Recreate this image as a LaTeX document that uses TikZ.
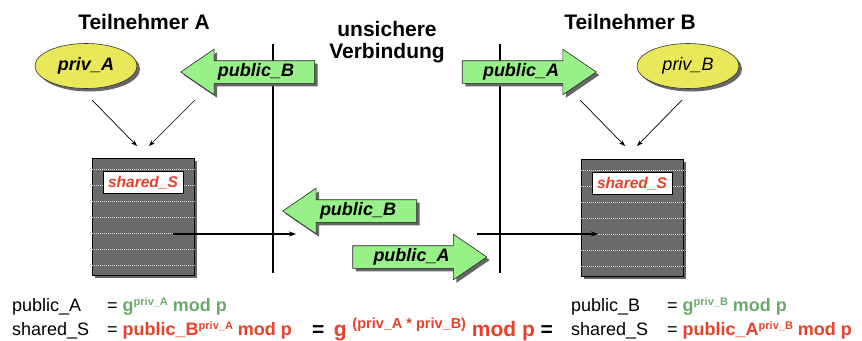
\documentclass[tikz,border=0pt]{standalone}
\usepackage{fontspec}
\setmainfont{Liberation Sans}
\usetikzlibrary{shapes.geometric,shapes.arrows,shadows,arrows.meta,calc}

\definecolor{greentxt}{HTML}{6AAA6A}
\definecolor{redtxt}{HTML}{E8402A}
\definecolor{msgfill}{HTML}{98F088}
\definecolor{keyfill}{HTML}{E8E85A}
\definecolor{storefill}{HTML}{6A6A6A}

% raised small exponent
\newcommand{\expo}[2][6pt]{\raisebox{#1}{\fontsize{11}{11}\selectfont #2}}
\newcommand{\bigexpo}[1]{\raisebox{8pt}{\fontsize{14.5}{14.5}\selectfont #1}}

\begin{document}
\begin{tikzpicture}[x=1pt,y=-1pt,
  shade/.style={drop shadow={shadow xshift=3pt,shadow yshift=-3pt,fill=black!60,opacity=1}},
  title/.style={font=\fontsize{21}{22}\selectfont\bfseries, align=center},
  keynode/.style={ellipse, draw=black!80, line width=0.6pt, fill=keyfill,
    minimum width=102pt, minimum height=45pt, inner sep=0pt, shade,
    font=\fontsize{18}{18}\selectfont\itshape},
  msg/.style={single arrow, draw=black!85, line width=0.6pt, fill=msgfill, shade,
    minimum height=134pt, single arrow head extend=11.5pt,
    single arrow tip angle=68.6, single arrow head indent=0pt,
    text height=13pt, text depth=4pt, inner ysep=2.5pt, inner xsep=0pt,
    font=\fontsize{18}{18}\selectfont\bfseries\itshape},
  msgleft/.style={msg, shape border rotate=180},
  store/.style={rectangle, draw=black, line width=0.6pt, fill=storefill,
    minimum width=102pt, minimum height=117pt, inner sep=0pt, shade},
  storelabel/.style={rectangle, draw=black, line width=0.5pt, fill=white,
    minimum width=80pt, minimum height=22pt, inner sep=0pt,
    text=redtxt, font=\fontsize{15.5}{15.5}\selectfont\bfseries\itshape},
  sepline/.style={white!85!black, line width=0.5pt, dash pattern=on 0.6pt off 1.4pt},
  channel/.style={black, line width=1.3pt},
  feed/.style={black, line width=0.7pt, -{Stealth[length=6pt,width=4.5pt]}},
  pass/.style={black, line width=1.3pt, -{Stealth[length=7pt,width=5pt]}},
  eqtext/.style={anchor=base west, inner sep=0pt, font=\fontsize{18}{18}\selectfont}
]
\useasboundingbox (0,0) rectangle (862,340);

% headings
\node[title] (headA) at (144,22) {Teilnehmer A};
\node[title] (headB) at (630,22) {Teilnehmer B};
\node[title] (headC) at (387,42) {unsichere\\Verbindung};

% the insecure channel boundaries
\coordinate (chAtop) at (273,44);
\coordinate (chAbot) at (273,273);
\coordinate (chBtop) at (500,44);
\coordinate (chBbot) at (500,273);
\draw[channel] (chAtop) -- (chAbot);
\draw[channel] (chBtop) -- (chBbot);

% private keys
\node[keynode, font=\fontsize{18}{18}\selectfont\bfseries\itshape] (privA) at (86,66) {priv\_A};
\node[keynode] (privB) at (688,66) {priv\_B};

% shared secret stores
\node[store] (boxA) at (143,216.5) {};
\node[store] (boxB) at (632,217.5) {};
\foreach \d in {12,28,44,60,76,92,108} {
  \draw[sepline] ([yshift=-\d pt]boxA.north west) -- ([yshift=-\d pt]boxA.north east);
  \draw[sepline] ([yshift=-\d pt]boxB.north west) -- ([yshift=-\d pt]boxB.north east);
}
\node[storelabel] (labA) at ([yshift=-25pt]boxA.north) {shared\_S};
\node[storelabel] (labB) at ([yshift=-25pt]boxB.north) {shared\_S};

% exchanged public values
\node[msgleft] (pubBtop) at (256,72) {public\_B};
\node[msg] (pubAtop) at (521,72) {public\_A};
\node[msgleft] (pubBmid) at (358,211) {public\_B};
\node[msg] (pubAmid) at (411.5,257) {public\_A};

% inputs of the key computation
\coordinate (fA1s) at (92,100);  \coordinate (fA1e) at (137,146);
\coordinate (fA2s) at (195,100); \coordinate (fA2e) at (149,146);
\coordinate (fB1s) at (580,100); \coordinate (fB1e) at (625,146);
\coordinate (fB2s) at (682,100); \coordinate (fB2e) at (637,146);
\draw[feed] (fA1s) -- (fA1e);
\draw[feed] (fA2s) -- (fA2e);
\draw[feed] (fB1s) -- (fB1e);
\draw[feed] (fB2s) -- (fB2e);

% transfer across the channel
\coordinate (outA) at (173,234); \coordinate (inMid) at (296,234);
\coordinate (outMid) at (477,234); \coordinate (inB) at (598,234);
\draw[pass] (outA) -- (inMid);
\draw[pass] (outMid) -- (inB);

% formulas
\node[eqtext] (eqA1l) at (12,311) {public\_A};
\node[eqtext] (eqA1r) at (107,311) {= \textcolor{greentxt}{\bfseries g\expo{priv\_A} mod p}};
\node[eqtext] (eqA2l) at (12,335) {shared\_S};
\node[eqtext] (eqA2r) at (107,335) {= \textcolor{redtxt}{\bfseries public\_B\expo{priv\_A} mod p}};
\node[eqtext, font=\fontsize{21}{21}\selectfont\bfseries] (eqMid) at (312,336)
  {=\, \textcolor{redtxt}{g \bigexpo{(priv\_A * priv\_B)} mod p} =};
\node[eqtext] (eqB1l) at (571,311) {public\_B};
\node[eqtext] (eqB1r) at (667,311) {= \textcolor{greentxt}{\bfseries g\expo{priv\_B} mod p}};
\node[eqtext] (eqB2l) at (571,335) {shared\_S};
\node[eqtext] (eqB2r) at (667,335) {= \textcolor{redtxt}{\bfseries public\_A\expo{priv\_B} mod p}};
\end{tikzpicture}
\end{document}
